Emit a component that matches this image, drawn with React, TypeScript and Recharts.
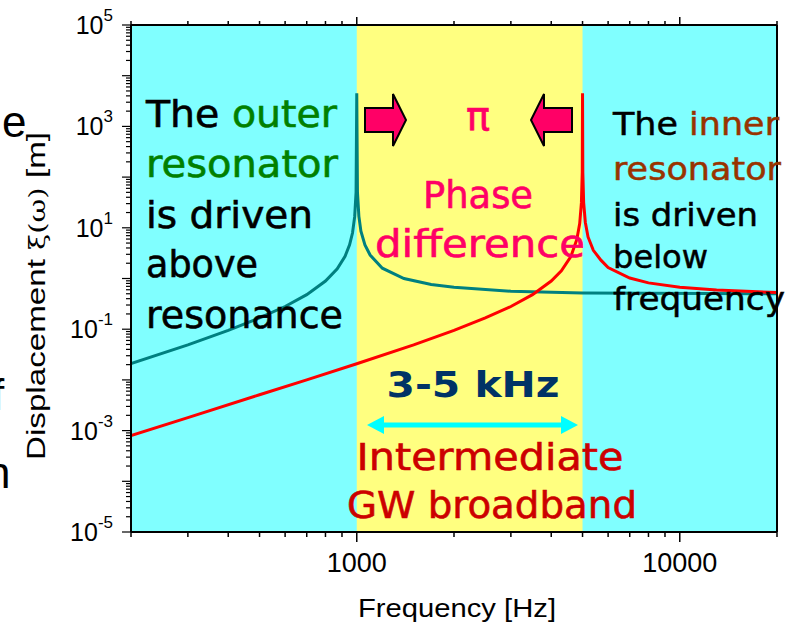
import { ComposedChart, Line, XAxis, YAxis, ReferenceArea } from "recharts";

// outer resonator (f0 ~ 1 kHz)
const OUTER_FREQ = [200, 300, 400, 500, 600, 700, 800, 870, 920, 950, 970, 985, 995, 1000, 1005, 1015, 1030, 1060, 1100, 1200, 1400, 1700, 2000, 3000, 5000, 8000, 12000, 20000];
const OUTER_DISP = [0.021, 0.049, 0.095, 0.167, 0.28, 0.48, 0.89, 1.55, 2.75, 4.6, 7.9, 16.4, 50, 4500, 50, 17, 8.6, 4.6, 2.9, 1.6, 1.0, 0.76, 0.67, 0.56, 0.52, 0.51, 0.505, 0.5];

// inner resonator (f0 ~ 5 kHz)
const INNER_FREQ = [200, 300, 500, 700, 1000, 1500, 2000, 2500, 3000, 3500, 4000, 4300, 4600, 4800, 4900, 4960, 4990, 5000, 5010, 5040, 5100, 5200, 5400, 5700, 6000, 7000, 8000, 10000, 13000, 20000];
const INNER_DISP = [0.0008, 0.0018, 0.0051, 0.01, 0.0208, 0.049, 0.095, 0.167, 0.28, 0.48, 0.89, 1.42, 2.7, 5.9, 12.1, 31, 125, 4500, 125, 31.5, 12.9, 6.6, 3.6, 2.3, 1.64, 1.02, 0.82, 0.67, 0.59, 0.53];

const X_DOMAIN = [200, 20000];
const Y_DOMAIN = [1e-5, 1e5];
const BAND = [1000, 5000];
const X_TICKS = [200, 300, 400, 500, 600, 700, 800, 900, 1000, 2000, 3000, 4000, 5000, 6000, 7000, 8000, 9000, 10000, 20000];
const X_LABELED = [1000, 10000];
const Y_DECADES = [-5, -4, -3, -2, -1, 0, 1, 2, 3, 4];
const Y_MINOR = [1, 2, 3, 4, 5, 6, 7, 8, 9];
const Y_LABELED = [-5, -3, -1, 1, 3, 5];

const Y_TICKS = [...Y_DECADES.flatMap((e) => Y_MINOR.map((m) => m * Math.pow(10, e))), 1e5];

const outerData = OUTER_FREQ.map((f, i) => ({ f, v: OUTER_DISP[i] }));
const innerData = INNER_FREQ.map((f, i) => ({ f, v: INNER_DISP[i] }));

const W = 796;
const H = 633;
const AXIS_FONT = "'Liberation Sans', Arial, sans-serif";
const NOTE_FONT = "'DejaVu Sans', sans-serif";
const PINK = "#FF0066";

function isDecade(v: number) {
  const lg = Math.log10(v);
  return Math.abs(lg - Math.round(lg)) < 1e-6;
}

function BottomTick({ x, y, payload }: any) {
  const v = payload.value;
  const major = X_LABELED.includes(v);
  return (
    <g>
      <line x1={x} x2={x} y1={y} y2={y + (major ? 10 : 5)} stroke="#000" strokeWidth={1.5} />
      {major && (
        <text x={x} y={y + 40} textAnchor="middle" fontSize={27} fontFamily={AXIS_FONT} fill="#000">
          {v}
        </text>
      )}
    </g>
  );
}

function TopTick({ x, y, payload }: any) {
  const major = X_LABELED.includes(payload.value);
  return <line x1={x} x2={x} y1={y} y2={y - (major ? 8 : 4)} stroke="#000" strokeWidth={1.5} />;
}

function LeftTick({ x, y, payload }: any) {
  const v = payload.value;
  const major = isDecade(v);
  const exp = Math.round(Math.log10(v));
  return (
    <g>
      <line x1={x} x2={x - (major ? 9 : 5)} y1={y} y2={y} stroke="#000" strokeWidth={1.2} />
      {major && Y_LABELED.includes(exp) && (
        <text x={x - 18} y={y + 9} textAnchor="end" fontFamily={AXIS_FONT} fill="#000">
          <tspan fontSize={25}>10</tspan>
          <tspan fontSize={17} dy={-13}>{exp}</tspan>
        </text>
      )}
    </g>
  );
}

// annotation layer laid over the chart svg
function Notes() {
  return (
    <svg
      width={W}
      height={H}
      style={{ position: "absolute", left: 0, top: 0, pointerEvents: "none" }}
      fontFamily={NOTE_FONT}
    >
      {/* leftovers of the slide text behind the chart */}
      <text x={2} y={137} fontSize={44} fontFamily={AXIS_FONT} fill="#000">e</text>
      <text x={-8} y={410} fontSize={44} fontFamily={AXIS_FONT} fill="#000">f</text>
      <text x={-14} y={488} fontSize={44} fontFamily={AXIS_FONT} fill="#000">n</text>

      {/* axis titles */}
      <text
        transform="translate(45,460) rotate(-90)"
        fontFamily={AXIS_FONT}
        fill="#000"
        textLength={328}
        lengthAdjust="spacingAndGlyphs"
      >
        <tspan fontSize={25}>Displacement </tspan>
        <tspan fontSize={22} fontFamily="'DejaVu Serif', serif">ξ(ω)</tspan>
        <tspan fontSize={25}> [m]</tspan>
      </text>
      <text
        x={457}
        y={617}
        textAnchor="middle"
        fontSize={26}
        fontFamily={AXIS_FONT}
        fill="#000"
        textLength={198}
        lengthAdjust="spacingAndGlyphs"
      >
        Frequency [Hz]
      </text>

      {/* outer resonator note */}
      <g fontSize={38} fill="#000" stroke="currentColor" strokeWidth={0.6}>
        <text x={146} y={127} textLength={191} lengthAdjust="spacingAndGlyphs" color="#000">
          <tspan>The </tspan>
          <tspan fill="#008000" stroke="#008000">outer</tspan>
        </text>
        <text x={146} y={177} textLength={192} lengthAdjust="spacingAndGlyphs" fill="#008000" stroke="#008000">resonator</text>
        <text x={146} y={228} textLength={167} lengthAdjust="spacingAndGlyphs" stroke="#000">is driven</text>
        <text x={146} y={277} textLength={112} lengthAdjust="spacingAndGlyphs" stroke="#000">above</text>
        <text x={146} y={328} textLength={197} lengthAdjust="spacingAndGlyphs" stroke="#000">resonance</text>
      </g>

      {/* inner resonator note */}
      <g fontSize={32} fill="#000" strokeWidth={0.5}>
        <text x={613} y={135} textLength={166} lengthAdjust="spacingAndGlyphs" stroke="#000">
          <tspan>The </tspan>
          <tspan fill="#993300" stroke="#993300">inner</tspan>
        </text>
        <text x={613} y={180} textLength={168} lengthAdjust="spacingAndGlyphs" fill="#993300" stroke="#993300">resonator</text>
        <text x={613} y={226} textLength={145} lengthAdjust="spacingAndGlyphs" stroke="#000">is driven</text>
        <text x={613} y={268} textLength={95} lengthAdjust="spacingAndGlyphs" stroke="#000">below</text>
        <text x={613} y={310} textLength={172} lengthAdjust="spacingAndGlyphs" stroke="#000">frequency</text>
      </g>

      {/* phase arrows */}
      <polygon points="365,108 393,108 393,94 406,120 393,146 393,132 365,132" fill={PINK} stroke="#000" strokeWidth={2} />
      <polygon points="572,108 544,108 544,94 531,120 544,146 544,132 572,132" fill={PINK} stroke="#000" strokeWidth={2} />
      <g fill={PINK} stroke={PINK} strokeWidth={0.6}>
        <text x={478} y={130} textAnchor="middle" fontSize={40}>π</text>
        <text x={478} y={208} textAnchor="middle" fontSize={37} textLength={110} lengthAdjust="spacingAndGlyphs">Phase</text>
        <text x={480} y={257} textAnchor="middle" fontSize={37} textLength={210} lengthAdjust="spacingAndGlyphs">difference</text>
      </g>

      {/* band annotation */}
      <text x={473} y={397} textAnchor="middle" fontSize={36} fontWeight="bold" fill="#003366" textLength={173} lengthAdjust="spacingAndGlyphs">3-5 kHz</text>
      <line x1={380} x2={565} y1={425} y2={425} stroke="#00FFFF" strokeWidth={5} />
      <polygon points="367,425 384,416 384,434" fill="#00FFFF" />
      <polygon points="578,425 561,416 561,434" fill="#00FFFF" />
      <g fill="#CC0000" stroke="#CC0000" strokeWidth={0.6}>
        <text x={490} y={470} textAnchor="middle" fontSize={38} textLength={267} lengthAdjust="spacingAndGlyphs">Intermediate</text>
        <text x={492} y={518} textAnchor="middle" fontSize={38} textLength={290} lengthAdjust="spacingAndGlyphs">GW broadband</text>
      </g>
    </svg>
  );
}

export default function App() {
  return (
    <div style={{ position: "relative", width: W, height: H, background: "#fff" }}>
      <style>{"body{margin:0}"}</style>
      <ComposedChart width={W} height={H} margin={{ top: 24, right: 18, bottom: 100, left: 130 }}>
        <XAxis
          xAxisId="b"
          dataKey="f"
          type="number"
          scale="log"
          domain={X_DOMAIN}
          allowDataOverflow
          ticks={X_TICKS}
          interval={0}
          tickSize={0}
          tickMargin={0}
          tickLine={false}
          tick={(p: any) => <BottomTick {...p} />}
          axisLine={{ stroke: "#000", strokeWidth: 2 }}
          height={1}
        />
        <XAxis
          xAxisId="t"
          orientation="top"
          dataKey="f"
          type="number"
          scale="log"
          domain={X_DOMAIN}
          allowDataOverflow
          ticks={X_TICKS}
          interval={0}
          tickSize={0}
          tickMargin={0}
          tickLine={false}
          tick={(p: any) => <TopTick {...p} />}
          axisLine={{ stroke: "#000", strokeWidth: 2 }}
          height={1}
        />
        <YAxis
          yAxisId="l"
          type="number"
          scale="log"
          domain={Y_DOMAIN}
          allowDataOverflow
          ticks={Y_TICKS}
          interval={0}
          tickSize={0}
          tickMargin={0}
          tickLine={false}
          tick={(p: any) => <LeftTick {...p} />}
          axisLine={{ stroke: "#000", strokeWidth: 2 }}
          width={1}
        />
        <YAxis
          yAxisId="r"
          orientation="right"
          type="number"
          scale="log"
          domain={Y_DOMAIN}
          allowDataOverflow
          tick={false}
          tickLine={false}
          axisLine={{ stroke: "#000", strokeWidth: 2 }}
          width={1}
        />
        <ReferenceArea xAxisId="b" yAxisId="l" x1={X_DOMAIN[0]} x2={X_DOMAIN[1]} fill="#80FFFF" fillOpacity={1} stroke="none" />
        <ReferenceArea xAxisId="b" yAxisId="l" x1={BAND[0]} x2={BAND[1]} fill="#FFFF80" fillOpacity={1} stroke="none" />
        <Line
          xAxisId="b"
          yAxisId="l"
          data={outerData}
          dataKey="v"
          type="linear"
          stroke="#008080"
          strokeWidth={3}
          dot={false}
          isAnimationActive={false}
        />
        <Line
          xAxisId="b"
          yAxisId="l"
          data={innerData}
          dataKey="v"
          type="linear"
          stroke="#FF0000"
          strokeWidth={3}
          dot={false}
          isAnimationActive={false}
        />
      </ComposedChart>
      <Notes />
    </div>
  );
}
